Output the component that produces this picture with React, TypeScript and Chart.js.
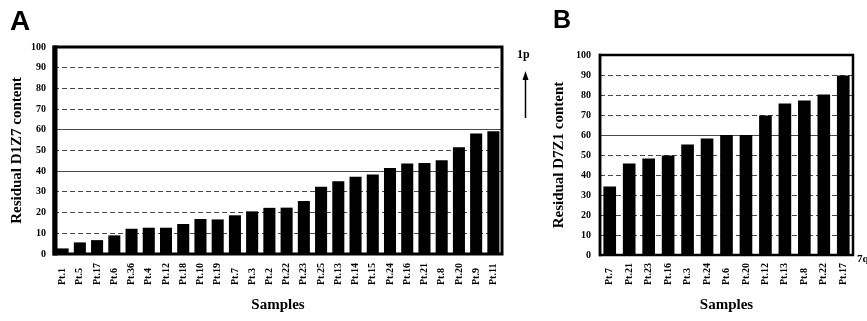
import React, { useEffect, useRef } from 'react';
import { Chart, registerables } from 'chart.js';

Chart.register(...registerables);

// ---------- data ----------
const samplesA = ['Pt.1', 'Pt.5', 'Pt.17', 'Pt.6', 'Pt.36', 'Pt.4', 'Pt.12', 'Pt.18', 'Pt.10', 'Pt.19', 'Pt.7', 'Pt.3', 'Pt.2', 'Pt.22', 'Pt.23', 'Pt.25', 'Pt.13', 'Pt.14', 'Pt.15', 'Pt.24', 'Pt.16', 'Pt.21', 'Pt.8', 'Pt.20', 'Pt.9', 'Pt.11'];
const residualD1Z7 = [2.7, 5.6, 6.7, 9, 12.2, 12.7, 12.7, 14.5, 16.9, 16.7, 18.7, 20.6, 22.3, 22.4, 25.6, 32.5, 35.2, 37.3, 38.4, 41.6, 43.7, 44, 45.3, 51.6, 58.2, 59.3];

const samplesB = ['Pt.7', 'Pt.21', 'Pt.23', 'Pt.16', 'Pt.3', 'Pt.24', 'Pt.6', 'Pt.20', 'Pt.12', 'Pt.13', 'Pt.8', 'Pt.22', 'Pt.17'];
const residualD7Z1 = [34.2, 45.8, 48.2, 49.7, 55.3, 58.3, 60, 60, 69.7, 75.8, 77.3, 80.3, 89.8];

const yMin = 0;
const yMax = 100;
const yStep = 10;

const SERIF = '"Liberation Serif", "Times New Roman", serif';
const SANS = '"Liberation Sans", Arial, sans-serif';

type Panel = {
  letter: string;
  letterX: number;
  letterY: number;
  letterSize: number;
  labels: string[];
  values: number[];
  yTitle: string;
  canvasW: number;
  top: number;
  padRight: number;
  yAxisW: number;
  xAxisH: number;
  tickPad: number;
  yTitlePad: number;
  barPct: number;
  frameW: number;
  leftW: number;
  solid: number[];
  labelBase: number;
  extra?: (ctx: CanvasRenderingContext2D) => void;
};

function buildChart(canvas: HTMLCanvasElement, p: Panel) {
  const overlay = {
    id: 'overlay' + p.letter,
    afterDatasetsDraw(chart: any) {
      const { ctx, chartArea } = chart;
      const { left, right, top, bottom } = chartArea;
      ctx.save();
      ctx.strokeStyle = '#000';
      ctx.lineWidth = p.frameW;
      ctx.strokeRect(left, top, right - left, bottom - top);
      ctx.lineWidth = p.leftW;
      ctx.beginPath();
      ctx.moveTo(left + p.leftW / 2 - p.frameW / 2, top - p.frameW / 2);
      ctx.lineTo(left + p.leftW / 2 - p.frameW / 2, bottom + p.frameW / 2);
      ctx.stroke();
      ctx.restore();
    },
    afterDraw(chart: any) {
      const { ctx } = chart;
      const xs = chart.scales.x;
      ctx.save();
      ctx.fillStyle = '#000';
      ctx.font = `bold 10px ${SERIF}`;
      ctx.textAlign = 'left';
      ctx.textBaseline = 'middle';
      p.labels.forEach((lab, i) => {
        const x = xs.getPixelForValue(i);
        ctx.save();
        ctx.translate(x, p.labelBase);
        ctx.rotate(-Math.PI / 2);
        ctx.fillText(lab, 0, 0);
        ctx.restore();
      });
      ctx.font = `bold ${p.letterSize}px ${SANS}`;
      ctx.textBaseline = 'alphabetic';
      ctx.fillText(p.letter, p.letterX, p.letterY);
      if (p.extra) p.extra(ctx);
      ctx.restore();
    },
  };

  return new Chart(canvas, {
    type: 'bar',
    data: {
      labels: p.labels,
      datasets: [
        {
          data: p.values,
          backgroundColor: '#000',
          borderWidth: 0,
          categoryPercentage: 1,
          barPercentage: p.barPct,
        },
      ],
    },
    options: {
      responsive: false,
      animation: false,
      events: [],
      layout: { padding: { top: p.top, right: p.padRight, left: 0, bottom: 0 } },
      plugins: {
        legend: { display: false },
        tooltip: { enabled: false },
        title: { display: false },
      },
      scales: {
        x: {
          grid: { display: false },
          border: { display: false },
          ticks: { display: false },
          title: {
            display: true,
            text: 'Samples',
            color: '#000',
            font: { family: SERIF, size: 15, weight: 'bold' },
            padding: { top: 0, bottom: 7 },
          },
          afterFit: (s: any) => {
            s.height = p.xAxisH;
          },
        },
        y: {
          min: yMin,
          max: yMax,
          ticks: {
            stepSize: yStep,
            color: '#000',
            font: { family: SERIF, size: 10, weight: 'bold' },
            padding: p.tickPad,
          },
          grid: { color: '#1a1a1a', lineWidth: 0.8, drawTicks: false },
          border: {
            display: false,
            dash: (c: any) => (c.tick && p.solid.includes(c.tick.value) ? [] : [5, 3]),
          },
          title: {
            display: true,
            text: p.yTitle,
            color: '#000',
            font: { family: SERIF, size: 15, weight: 'bold' },
            padding: { top: p.yTitlePad, bottom: 0 },
          },
          afterFit: (s: any) => {
            s.width = p.yAxisW;
          },
        },
      },
    } as any,
    plugins: [overlay],
  });
}

const panelA: Panel = {
  letter: 'A',
  letterX: 10,
  letterY: 30,
  letterSize: 28,
  labels: samplesA,
  values: residualD1Z7,
  yTitle: 'Residual D1Z7 content',
  canvasW: 540,
  top: 47,
  padRight: 38,
  yAxisW: 54,
  xAxisH: 67,
  tickPad: 8,
  yTitlePad: 8,
  barPct: 0.7,
  frameW: 3,
  leftW: 5,
  solid: [40, 60],
  labelBase: 285,
  extra: (ctx) => {
    ctx.font = `bold 12px ${SERIF}`;
    ctx.fillText('1p', 517, 58);
    ctx.strokeStyle = '#000';
    ctx.lineWidth = 1.5;
    ctx.beginPath();
    ctx.moveTo(525.5, 118);
    ctx.lineTo(525.5, 78);
    ctx.stroke();
    ctx.beginPath();
    ctx.moveTo(525.5, 71);
    ctx.lineTo(522.5, 80);
    ctx.lineTo(528.5, 80);
    ctx.closePath();
    ctx.fill();
  },
};

const panelB: Panel = {
  letter: 'B',
  letterX: 13,
  letterY: 28,
  letterSize: 25,
  labels: samplesB,
  values: residualD7Z1,
  yTitle: 'Residual D7Z1 content',
  canvasW: 327,
  top: 55,
  padRight: 14,
  yAxisW: 60,
  xAxisH: 66,
  tickPad: 9,
  yTitlePad: 10,
  barPct: 0.65,
  frameW: 2.5,
  leftW: 2.5,
  solid: [60],
  labelBase: 285,
  extra: (ctx) => {
    ctx.font = `bold 11px ${SERIF}`;
    ctx.fillText('7q', 317, 262);
  },
};

function PanelChart({ p, left }: { p: Panel; left: number }) {
  const ref = useRef<HTMLCanvasElement | null>(null);
  useEffect(() => {
    if (!ref.current) return;
    const c = buildChart(ref.current, p);
    return () => c.destroy();
  }, [p]);
  return (
    <canvas
      ref={ref}
      width={p.canvasW}
      height={321}
      style={{ position: 'absolute', left, top: 0, width: p.canvasW, height: 321 }}
    />
  );
}

export default function App() {
  return (
    <div
      style={{
        position: 'fixed',
        left: 0,
        top: 0,
        width: 867,
        height: 321,
        background: '#fff',
        overflow: 'hidden',
      }}
    >
      <PanelChart p={panelA} left={0} />
      <PanelChart p={panelB} left={540} />
    </div>
  );
}
